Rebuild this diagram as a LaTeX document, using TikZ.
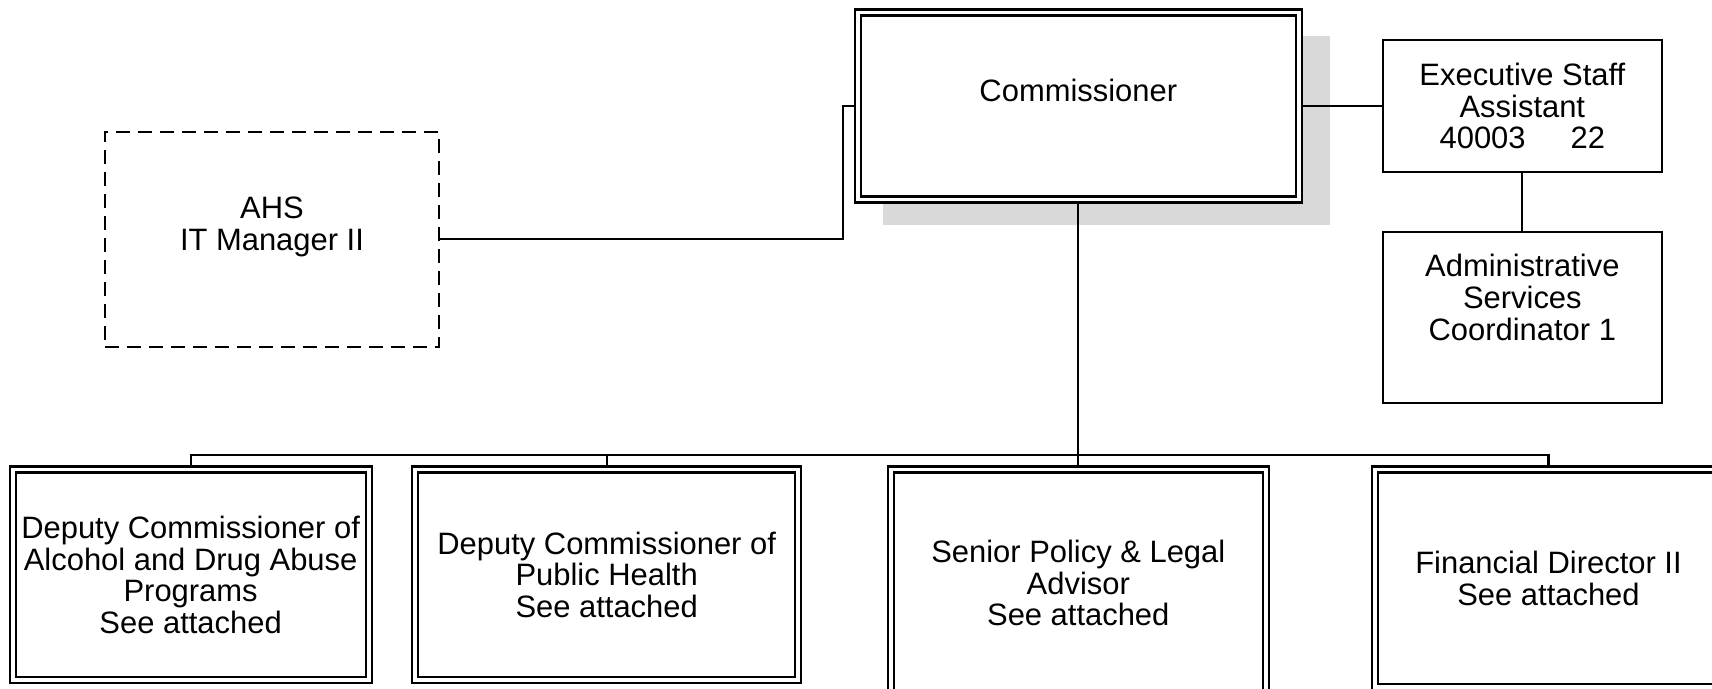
\documentclass[tikz,border=0pt]{standalone}
\usepackage{fontspec}
\setmainfont{Liberation Sans}
\usepackage{tikz}
\usetikzlibrary{shapes,shadows}
\definecolor{shadowgray}{RGB}{217,217,217}
\tikzstyle{block} = [rectangle, draw, fill=white, align=center,
    line width=0.042cm, inner sep=0pt]
\tikzstyle{dblock} = [block, double, double distance=0.078cm, outer sep=0.081cm]
\tikzstyle{vacant} = [block, dash pattern=on 0.28cm off 0.16cm]
\tikzstyle{line} = [draw, line width=0.042cm, color=black]

\begin{document}
\begin{tikzpicture}[scale=1., node distance = 2cm, auto]
  \fontsize{17.6}{18}\selectfont
  \useasboundingbox (-21.566,2.12) rectangle (12.674,-11.66);
  \clip (-21.566,2.12) rectangle (12.674,-11.66);
    % Place nodes
    \node [dblock, minimum width=8.82cm, minimum height=3.74cm,
      drop shadow={shadow xshift=0.551cm, shadow yshift=-0.487cm,
      shadow scale=1.013, fill=shadowgray, opacity=1}] (comm) {Commissioner\\~};
    \node [block, right of=comm, node distance=8.881cm,
      minimum width=5.574cm, minimum height=2.64cm] (exec)
      {Executive Staff\\Assistant\\40003\hspace{0.9cm}22};
    \node [block, below of=exec, node distance=4.224cm,
      minimum width=5.574cm, minimum height=3.42cm] (admin)
      {Administrative\\Services\\Coordinator 1\\[0.16cm]~};
    \node [vacant, left of=comm, node distance=16.126cm, yshift=-2.667cm,
      minimum width=6.68cm, minimum height=4.306cm] (itmgr) {AHS\\IT Manager II\\~};
    \node [dblock, below of=comm, node distance=9.545cm,
      minimum width=7.506cm, minimum height=4.55cm] (senior)
      {Senior Policy \& Legal\\Advisor\\See attached};
    \node [dblock, left of=senior, node distance=9.432cm, yshift=0.168cm,
      minimum width=7.666cm, minimum height=4.212cm] (health)
      {Deputy Commissioner of\\Public Health\\See attached};
    \node [dblock, left of=health, node distance=8.321cm,
      minimum width=7.12cm, minimum height=4.212cm] (alcohol)
      {Deputy Commissioner of\\Alcohol and Drug Abuse\\Programs\\See attached};
    \node [dblock, right of=senior, node distance=9.404cm, yshift=0.099cm,
      minimum width=6.94cm, minimum height=4.35cm] (finance)
      {Financial Director II\\See attached};
    \coordinate [below of=comm, node distance=6.98cm] (bus);

    % Draw edges
    \path [line] (comm.east) -- (exec.west);
    \path [line] (exec) -- (admin);
    \path [line] (itmgr.east) -- +(8.06,0) |- (comm.west);
    \path [line] (comm.south) -- (bus) -| (alcohol.north);
    \path [line] (bus) -| (health.north);
    \path [line] (bus) -- (senior.north);
    \path [line] (bus) -| (finance.north);
\end{tikzpicture}
\end{document}
